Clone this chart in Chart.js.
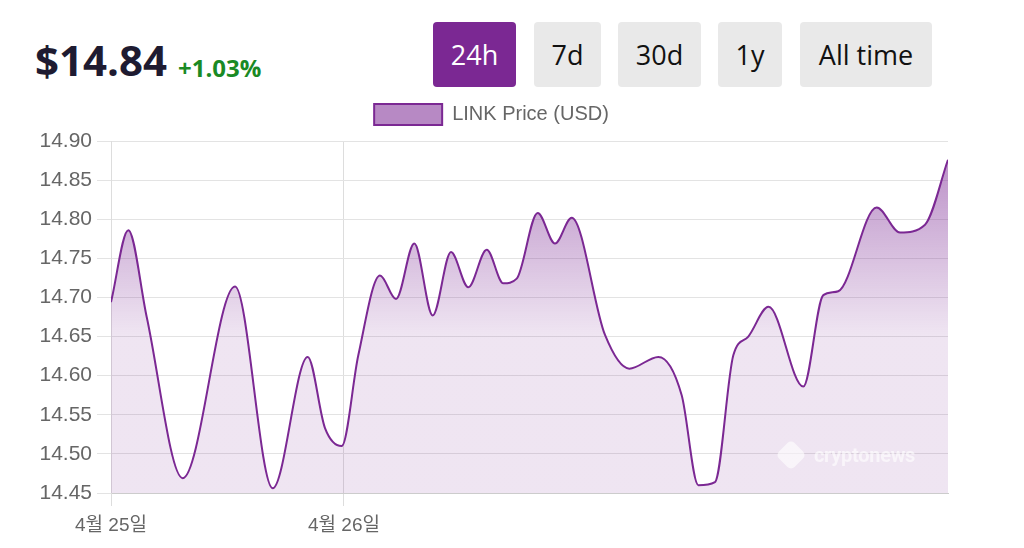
<!DOCTYPE html>
<html>
<head>
<meta charset="utf-8">
<script src="https://cdn.jsdelivr.net/npm/chart.js@4.4.1/dist/chart.umd.min.js"></script>
<style>
  html, body { margin: 0; padding: 0; background: #fff; }
  body { width: 1024px; height: 548px; position: relative; overflow: hidden; font-family: "Open Sans", "Noto Sans", sans-serif; }
  .price { position: absolute; left: 35px; top: 31px; font-size: 42px; font-weight: 700; color: #1e1b31; }
  .change { position: absolute; left: 178px; top: 51px; font-size: 24px; font-weight: 700; color: #1a8a24; }
  .ranges div { position: absolute; top: 22px; height: 65px; line-height: 65px; text-align: center; border-radius: 4px; background: #e9e9e9; color: #111; font-size: 27px; }
  .ranges div.active { background: #7b2893; color: #fff; }
  .chart-wrap { position: absolute; left: 0; top: 94px; width: 1024px; height: 454px; }
  .mark { position: absolute; left: 778px; top: 442px; display: flex; align-items: center; gap: 10px; color: rgba(255,255,255,0.6); font-family: Roboto, sans-serif; font-weight: 700; font-size: 20px; letter-spacing: -0.3px; }
  .mark span.logo { width: 26px; height: 26px; border-radius: 6px; background: rgba(255,255,255,0.6); transform: rotate(45deg) scale(0.85); }
</style>
</head>
<body>
<div class="price">$14.84</div>
<div class="change">+1.03%</div>
<div class="ranges">
  <div class="active" style="left:433px;width:83px">24h</div>
  <div style="left:534px;width:67px">7d</div>
  <div style="left:618px;width:83px">30d</div>
  <div style="left:718px;width:64px">1y</div>
  <div style="left:800px;width:132px">All time</div>
</div>
<div class="chart-wrap"><canvas id="priceChart"></canvas></div>
<div class="mark"><span class="logo"></span>cryptonews</div>

<script>
// hours since start of the 24h window
const hours = [0.000, 0.496, 1.024, 2.056, 3.556, 4.637, 5.640, 6.136, 6.615, 7.091,
    7.713, 8.172, 8.697, 9.225, 9.749, 10.245, 10.773, 11.249, 11.633, 12.235,
    12.731, 13.210, 14.165, 14.862, 15.694, 16.364, 16.841, 17.319, 17.844, 18.274,
    18.853, 19.851, 20.424, 20.854, 21.955, 22.624, 23.341, 24.000];

// LINK price (USD)
const prices = [14.694, 14.786, 14.675, 14.469, 14.714, 14.456, 14.624, 14.533, 14.510, 14.626,
    14.728, 14.698, 14.769, 14.677, 14.758, 14.713, 14.761, 14.718, 14.724, 14.808,
    14.769, 14.802, 14.652, 14.609, 14.624, 14.575, 14.460, 14.464, 14.626, 14.650,
    14.688, 14.586, 14.703, 14.708, 14.815, 14.783, 14.793, 14.876];

// date ticks on the x axis
const dayTicks = [0, 6.68];
const dayLabels = ['4월 25일', '4월 26일'];

const purple = '#7b2893';

// a bit more room under the legend
const legendGap = {
    id: 'legendGap',
    beforeInit(chart) {
        const fit = chart.legend.fit;
        chart.legend.fit = function () {
            fit.bind(chart.legend)();
            this.height += 6;
        };
    }
};

document.addEventListener('DOMContentLoaded', function () {
    const canvas = document.getElementById('priceChart');
    initPriceChart(canvas);
});

function initPriceChart(canvas) {
    const ctx = canvas.getContext('2d');

    new Chart(ctx, {
        type: 'line',
        plugins: [legendGap],
        data: {
            datasets: [{
                label: 'LINK Price (USD)',
                data: hours.map((h, i) => ({ x: h, y: prices[i] })),
                borderColor: purple,
                borderWidth: 2,
                pointRadius: 0,
                cubicInterpolationMode: 'monotone',
                fill: 'start',
                backgroundColor: function (context) {
                    const area = context.chart.chartArea;
                    if (!area) return 'rgba(123, 40, 147, 0.15)';
                    const g = context.chart.ctx.createLinearGradient(0, area.top, 0, area.bottom);
                    g.addColorStop(0, 'rgba(123, 40, 147, 0.55)');
                    g.addColorStop(0.55, 'rgba(123, 40, 147, 0.12)');
                    g.addColorStop(1, 'rgba(123, 40, 147, 0.12)');
                    return g;
                }
            }]
        },
        options: {
            responsive: true,
            maintainAspectRatio: false,
            animation: false,
            layout: {
                padding: { left: 0, right: 41, top: 0, bottom: 0 }
            },
            plugins: {
                legend: {
                    position: 'top',
                    labels: {
                        boxWidth: 68,
                        boxHeight: 21,
                        color: '#666',
                        font: { family: '"Liberation Sans", Arial, sans-serif', size: 20 },
                        generateLabels: function () {
                            return [{
                                text: 'LINK Price (USD)',
                                fillStyle: 'rgba(123, 40, 147, 0.55)',
                                strokeStyle: purple,
                                fontColor: '#666',
                                lineWidth: 2,
                                datasetIndex: 0
                            }];
                        }
                    }
                },
                tooltip: { enabled: false }
            },
            scales: {
                x: {
                    type: 'linear',
                    min: 0,
                    max: 24,
                    afterBuildTicks: function (scale) {
                        scale.ticks = dayTicks.map(v => ({ value: v }));
                    },
                    afterFit: function (scale) {
                        scale.height = 55;
                    },
                    ticks: {
                        color: '#666',
                        padding: 8,
                        maxRotation: 0,
                        font: { family: '"Liberation Sans", "Noto Sans CJK KR", sans-serif', size: 19 },
                        callback: function (value, index) {
                            return dayLabels[index];
                        }
                    },
                    grid: { color: '#ddd', tickLength: 13 },
                    border: { color: '#ccc' }
                },
                y: {
                    min: 14.45,
                    max: 14.90,
                    afterFit: function (scale) {
                        scale.width = 111;
                    },
                    ticks: {
                        stepSize: 0.05,
                        color: '#666',
                        padding: 5,
                        font: { family: '"Liberation Sans", Arial, sans-serif', size: 21 },
                        callback: function (value) {
                            return value.toFixed(2);
                        }
                    },
                    grid: { color: '#e3e3e3', tickLength: 14 },
                    border: { color: '#ddd' }
                },
                // empty right gutter, keeps the legend centred like the original
                gutter: {
                    position: 'right',
                    min: 0,
                    max: 1,
                    afterFit: function (scale) {
                        scale.width = 35;
                    },
                    ticks: { display: false },
                    grid: { display: false },
                    border: { display: false }
                }
            }
        }
    });
}
</script>
</body>
</html>
